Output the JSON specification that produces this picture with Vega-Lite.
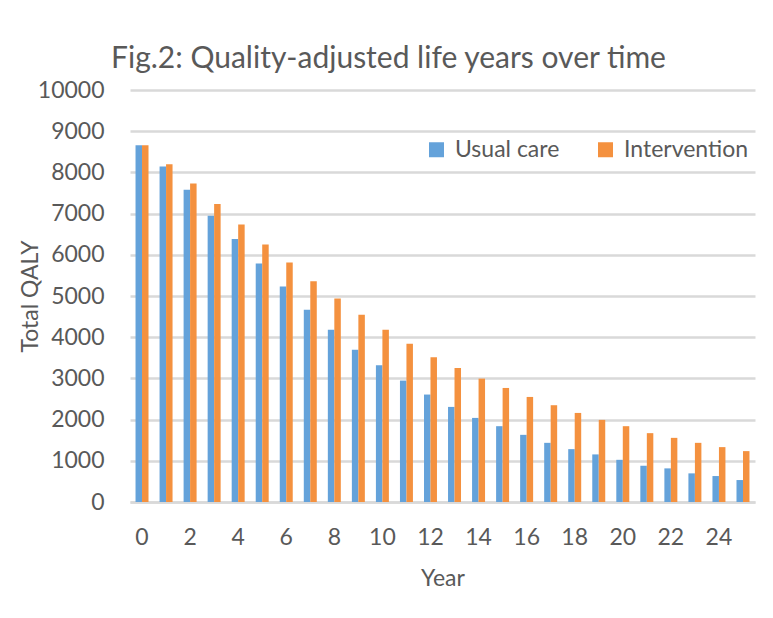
{
  "$schema": "https://vega.github.io/schema/vega-lite/v6.json",
  "autosize": "none",
  "width": 625,
  "height": 412,
  "padding": {"left": 130, "top": 90, "right": 18, "bottom": 116},
  "background": "white",
  "title": {
    "text": "Fig.2: Quality-adjusted life years over time",
    "font": "Lato",
    "fontSize": 30,
    "fontWeight": "normal",
    "color": "#595959",
    "anchor": "middle",
    "dx": -54,
    "offset": 5
  },
  "data": {
    "values": [
      {"year": 0, "group": "Usual care", "qaly": 8661}, {"year": 0, "group": "Intervention", "qaly": 8661},
      {"year": 1, "group": "Usual care", "qaly": 8143}, {"year": 1, "group": "Intervention", "qaly": 8200},
      {"year": 2, "group": "Usual care", "qaly": 7579}, {"year": 2, "group": "Intervention", "qaly": 7731},
      {"year": 3, "group": "Usual care", "qaly": 6949}, {"year": 3, "group": "Intervention", "qaly": 7232},
      {"year": 4, "group": "Usual care", "qaly": 6385}, {"year": 4, "group": "Intervention", "qaly": 6738},
      {"year": 5, "group": "Usual care", "qaly": 5787}, {"year": 5, "group": "Intervention", "qaly": 6247},
      {"year": 6, "group": "Usual care", "qaly": 5230}, {"year": 6, "group": "Intervention", "qaly": 5811},
      {"year": 7, "group": "Usual care", "qaly": 4666}, {"year": 7, "group": "Intervention", "qaly": 5358},
      {"year": 8, "group": "Usual care", "qaly": 4182}, {"year": 8, "group": "Intervention", "qaly": 4939},
      {"year": 9, "group": "Usual care", "qaly": 3697}, {"year": 9, "group": "Intervention", "qaly": 4545},
      {"year": 10, "group": "Usual care", "qaly": 3317}, {"year": 10, "group": "Intervention", "qaly": 4182},
      {"year": 11, "group": "Usual care", "qaly": 2947}, {"year": 11, "group": "Intervention", "qaly": 3843},
      {"year": 12, "group": "Usual care", "qaly": 2608}, {"year": 12, "group": "Intervention", "qaly": 3511},
      {"year": 13, "group": "Usual care", "qaly": 2308}, {"year": 13, "group": "Intervention", "qaly": 3252},
      {"year": 14, "group": "Usual care", "qaly": 2041}, {"year": 14, "group": "Intervention", "qaly": 2995},
      {"year": 15, "group": "Usual care", "qaly": 1840}, {"year": 15, "group": "Intervention", "qaly": 2768},
      {"year": 16, "group": "Usual care", "qaly": 1630}, {"year": 16, "group": "Intervention", "qaly": 2550},
      {"year": 17, "group": "Usual care", "qaly": 1436}, {"year": 17, "group": "Intervention", "qaly": 2349},
      {"year": 18, "group": "Usual care", "qaly": 1283}, {"year": 18, "group": "Intervention", "qaly": 2162},
      {"year": 19, "group": "Usual care", "qaly": 1155}, {"year": 19, "group": "Intervention", "qaly": 1993},
      {"year": 20, "group": "Usual care", "qaly": 1024}, {"year": 20, "group": "Intervention", "qaly": 1840},
      {"year": 21, "group": "Usual care", "qaly": 879}, {"year": 21, "group": "Intervention", "qaly": 1671},
      {"year": 22, "group": "Usual care", "qaly": 816}, {"year": 22, "group": "Intervention", "qaly": 1557},
      {"year": 23, "group": "Usual care", "qaly": 695}, {"year": 23, "group": "Intervention", "qaly": 1436},
      {"year": 24, "group": "Usual care", "qaly": 630}, {"year": 24, "group": "Intervention", "qaly": 1332},
      {"year": 25, "group": "Usual care", "qaly": 533}, {"year": 25, "group": "Intervention", "qaly": 1235}
    ]
  },
  "mark": {"type": "bar"},
  "encoding": {
    "x": {
      "field": "year",
      "type": "ordinal",
      "scale": {"paddingInner": 0.46, "paddingOuter": 0.23},
      "axis": {
        "title": "Year",
        "values": [0, 2, 4, 6, 8, 10, 12, 14, 16, 18, 20, 22, 24],
        "labelAngle": 0,
        "ticks": false,
        "tickSize": 0,
        "labelPadding": 24,
        "titlePadding": 18,
        "domainColor": "#D9D9D9",
        "domainWidth": 2.5,
        "grid": false
      }
    },
    "xOffset": {
      "field": "group",
      "type": "nominal",
      "scale": {"domain": ["Usual care", "Intervention"], "paddingInner": 0}
    },
    "y": {
      "field": "qaly",
      "type": "quantitative",
      "scale": {"domain": [0, 10000], "nice": false},
      "axis": {
        "title": "Total QALY",
        "values": [0, 1000, 2000, 3000, 4000, 5000, 6000, 7000, 8000, 9000, 10000],
        "format": "d",
        "ticks": false,
        "tickSize": 0,
        "domain": false,
        "labelPadding": 26,
        "titleX": -100,
        "titleY": 206,
        "titleBaseline": "middle",
        "gridColor": "#D9D9D9",
        "gridWidth": 2.5
      }
    },
    "color": {
      "field": "group",
      "type": "nominal",
      "scale": {"domain": ["Usual care", "Intervention"], "range": ["#64A2DA", "#F4913F"]},
      "legend": {
        "title": null,
        "orient": "none",
        "legendX": 295,
        "legendY": 48,
        "direction": "horizontal",
        "symbolType": "square",
        "symbolSize": 225,
        "symbolStrokeWidth": 0,
        "labelOffset": 7,
        "columnPadding": 34,
        "labelFontSize": 23
      }
    }
  },
  "config": {
    "view": {"stroke": null},
    "font": "Lato",
    "axis": {
      "labelFont": "Lato",
      "labelFontSize": 23,
      "labelColor": "#595959",
      "titleFont": "Lato",
      "titleFontSize": 23,
      "titleFontWeight": "normal",
      "titleColor": "#595959"
    },
    "legend": {
      "labelFont": "Lato",
      "labelFontSize": 23,
      "labelColor": "#595959",
      "labelLimit": 300
    }
  }
}
